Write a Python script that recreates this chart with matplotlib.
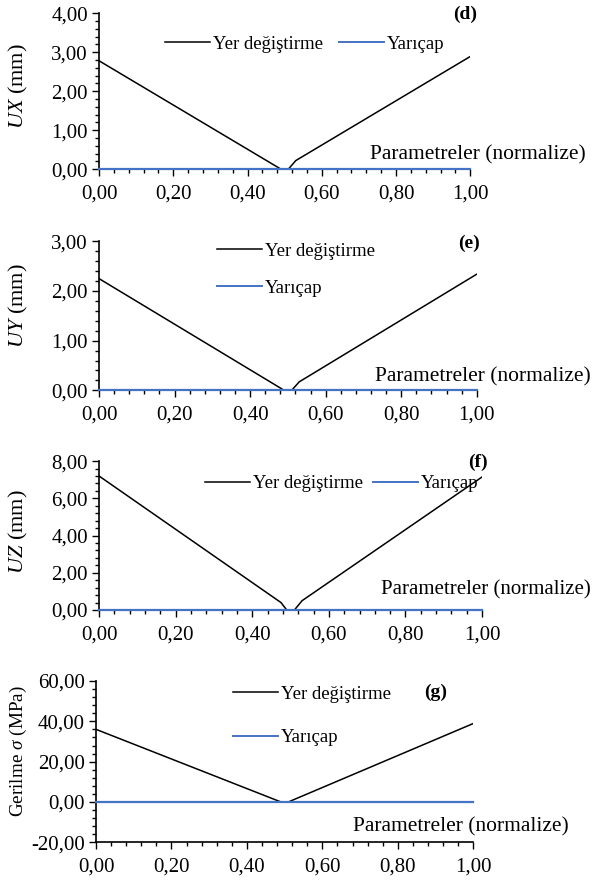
import matplotlib
matplotlib.use("Agg")
import matplotlib.pyplot as plt
from matplotlib.ticker import MultipleLocator, FuncFormatter
from matplotlib.lines import Line2D

plt.rcParams['font.family'] = ['Liberation Serif', 'DejaVu Serif']
plt.rcParams['mathtext.fontset'] = 'custom'
plt.rcParams['mathtext.rm'] = 'Liberation Serif'
plt.rcParams['mathtext.it'] = 'Liberation Serif:italic'

# Normalized parameter positions and responses for each panel
x_d = [0.0, 0.49, 0.51, 0.53, 1.0]
disp_d = [2.78, 0.0, 0.0, 0.22, 2.89]
x_e = [0.0, 0.49, 0.51, 0.53, 1.0]
disp_e = [2.25, 0.0, 0.0, 0.17, 2.34]
x_f = [0.0, 0.475, 0.49, 0.51, 0.53, 1.0]
disp_f = [7.20, 0.4, 0.0, 0.0, 0.5, 7.15]
x_g = [0.0, 0.49, 0.51, 1.0]
disp_g = [36.0, 0.0, 0.0, 38.9]
x_r = [0.0, 1.0]
radius = [0.0, 0.0]

labels = ['Yer değiştirme', 'Yarıçap']

BLACK = '#000000'
BLUE = '#4472C4'

W, H = 593, 881
fig = plt.figure(figsize=(W / 100, H / 100), dpi=100)

comma = FuncFormatter(lambda v, p: f"{v:.2f}".replace('.', ','))

panels = [
    # rect, x, y, ylim, major, minor, ylabel, ylabel size, ylabel centre (px), tag, tag pos,
    # legend ncol, legend anchor, row spacing, column spacing, param text pos, param size
    ([0.167, 0.808, 0.626, 0.177], x_d, disp_d, (0, 4), 1, 0.2, '$UX$ (mm)', 16, 86, '(d)', (0.985, 0.99),
     2, (0.178, 0.855), 0.9, 0.85, (0.73, 0.09), 15.5),
    ([0.167, 0.557, 0.637, 0.169], x_e, disp_e, (0, 3), 1, 0.2, '$UY$ (mm)', 16, 306, '(e)', (0.98, 0.99),
     1, (0.312, 0.99), 1.05, 0.85, (0.73, 0.09), 15.5),
    ([0.167, 0.3076, 0.646, 0.169], x_f, disp_f, (0, 8), 2, 0.4, '$UZ$ (mm)', 16, 532, '(f)', (0.99, 0.99),
     2, (0.277, 0.905), 0.9, 0.55, (0.735, 0.135), 15),
    ([0.162, 0.044, 0.636, 0.183], x_g, disp_g, (-20, 60), 20, 4, 'Gerilme $\\sigma$ (MPa)', 13.8, 751, '(g)',
     (0.90, 0.93), 1, (0.363, 0.97), 1.4, 0.85, (0.68, 0.095), 15.5),
]

for (rect, xs, ys, ylim, major, minor, ylabel, ylsize, ylpos, tag, tag_pos,
     ncol, anchor, spacing, colspace, ppos, psize) in panels:
    ax = fig.add_axes(rect)
    ax.plot(xs, ys, color=BLACK, lw=1.1, zorder=3)
    ax.plot(x_r, radius, color=BLUE, lw=1.6, zorder=4, clip_on=False)

    ax.set_xlim(0, 1)
    ax.set_ylim(*ylim)
    ax.xaxis.set_major_locator(MultipleLocator(0.2))
    ax.xaxis.set_minor_locator(MultipleLocator(0.04))
    ax.yaxis.set_major_locator(MultipleLocator(major))
    ax.yaxis.set_minor_locator(MultipleLocator(minor))
    ax.xaxis.set_major_formatter(comma)
    ax.yaxis.set_major_formatter(comma)
    ax.tick_params(which='major', direction='out', length=5, width=1, labelsize=15, pad=3)
    ax.tick_params(which='minor', direction='out', length=3, width=1)
    ax.tick_params(axis='x', which='major', pad=6)
    for side in ['top', 'right']:
        ax.spines[side].set_visible(False)
    for side in ['left', 'bottom']:
        ax.spines[side].set_linewidth(1.2)

    # y axis title, placed in figure pixels
    fig.text(18 / W, 1 - ylpos / H, ylabel, rotation=90,
             ha='center', va='center', fontsize=ylsize)
    ax.text(tag_pos[0], tag_pos[1], tag, transform=ax.transAxes, ha='center', va='center',
            fontsize=14, fontweight='bold')
    ax.text(ppos[0], ppos[1], 'Parametreler (normalize)', transform=ax.transAxes,
            ha='left', va='center', fontsize=psize, clip_on=False)

    handles = [Line2D([], [], color=BLACK, lw=1.1), Line2D([], [], color=BLUE, lw=1.4)]
    ax.legend(handles, labels, ncol=ncol, loc='upper left',
              bbox_to_anchor=anchor, frameon=False, fontsize=13.5, handlelength=2.4,
              handletextpad=0.15, columnspacing=colspace, labelspacing=spacing,
              borderaxespad=0, borderpad=0)

fig.savefig('out.png', dpi=100)
